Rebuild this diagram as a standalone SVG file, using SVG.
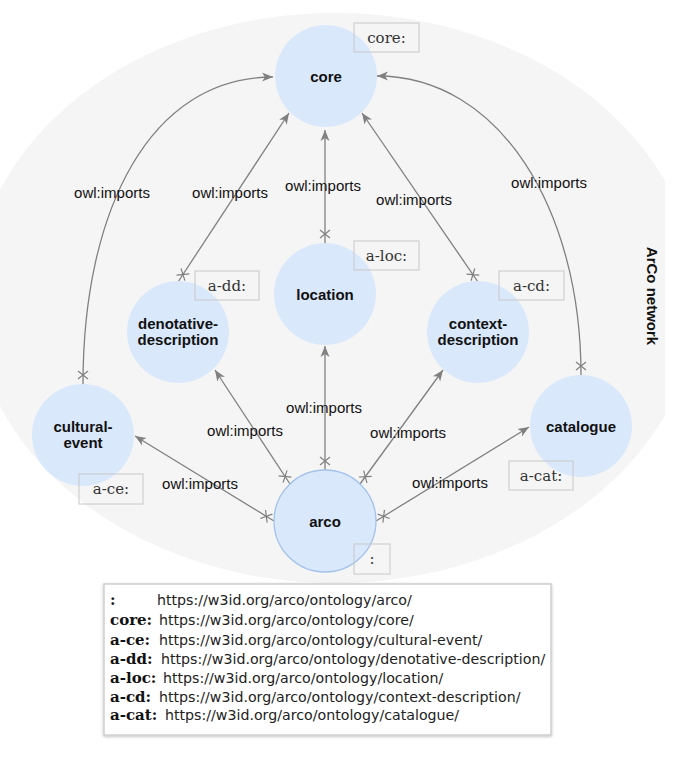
<svg xmlns="http://www.w3.org/2000/svg" width="684" height="759" viewBox="0 0 684 759">
<style>
.node{fill:#dae8fc;}
.nl{font-family:"Liberation Sans",Arial,sans-serif;font-size:15px;font-weight:bold;fill:#111;text-anchor:middle;}
.el{font-family:"Liberation Sans",Arial,sans-serif;font-size:15px;fill:#111;text-anchor:middle;}
.pb{fill:none;stroke:#c8c8c8;stroke-width:1;}
.pt{font-family:"DejaVu Serif","Liberation Serif",serif;font-size:15px;fill:#333;text-anchor:middle;}
.conn{fill:none;stroke:#808080;stroke-width:1.3;marker-start:url(#cross);marker-end:url(#arr);}
.lp{font-family:"DejaVu Serif","Liberation Serif",serif;font-size:15px;font-weight:bold;fill:#111;}
.lu{font-family:"DejaVu Sans","Liberation Sans",sans-serif;font-size:14.2px;fill:#222;}
</style>
<defs>
<clipPath id="bgclip"><rect x="0" y="0" width="665" height="759"/></clipPath>
<marker id="arr" markerUnits="userSpaceOnUse" markerWidth="13" markerHeight="11" viewBox="0 0 13 11" refX="11" refY="5.5" orient="auto">
<path d="M0,1 L11,5.5 L0,10 L3,5.5 Z" fill="#808080"/>
</marker>
<marker id="cross" markerUnits="userSpaceOnUse" markerWidth="20" markerHeight="20" viewBox="-10 -10 20 20" refX="-9" refY="0" orient="auto" overflow="visible">
<path d="M-4,-5 L4,5 M-4,5 L4,-5" stroke="#808080" stroke-width="1.2" fill="none"/>
</marker>
<filter id="sh" x="-5%" y="-5%" width="110%" height="115%">
<feDropShadow dx="0" dy="1" stdDeviation="1.5" flood-color="#000" flood-opacity="0.25"/>
</filter>
</defs>
<rect width="684" height="759" fill="#ffffff"/>
<g id="background">
<ellipse cx="335" cy="298" rx="362" ry="285" fill="#f5f5f5" clip-path="url(#bgclip)"/>
<text transform="translate(647,296) rotate(90)" x="0" y="0" class="nl">ArCo network</text>
</g>
<g id="connectors">
<path class="conn" d="M83,384 C83,210 150,77 273,77"/>
<path class="conn" d="M178,282 L289,113"/>
<path class="conn" d="M325,243 L325,130"/>
<path class="conn" d="M478,282 L362,113"/>
<path class="conn" d="M581,375 C581,210 500,76 377,76"/>
<path class="conn" d="M274,521 L135,436"/>
<path class="conn" d="M290,484 L215,370"/>
<path class="conn" d="M325,470 L325,346"/>
<path class="conn" d="M360,484 L443,370"/>
<path class="conn" d="M376,521 L529,427"/>
<text class="el" x="112" y="198">owl:imports</text>
<text class="el" x="230" y="198">owl:imports</text>
<text class="el" x="323" y="191">owl:imports</text>
<text class="el" x="414" y="205">owl:imports</text>
<text class="el" x="549" y="188">owl:imports</text>
<text class="el" x="200" y="489">owl:imports</text>
<text class="el" x="245" y="436">owl:imports</text>
<text class="el" x="324" y="413">owl:imports</text>
<text class="el" x="408" y="438">owl:imports</text>
<text class="el" x="450" y="488">owl:imports</text>
</g>
<g id="core">
<circle class="node" cx="326" cy="76" r="51"/>
<text class="nl" x="326" y="82">core</text>
<rect class="pb" x="354" y="23" width="65" height="29"/>
<text class="pt" x="386.5" y="43">core:</text>
</g>
<g id="location">
<circle class="node" cx="325" cy="294" r="51"/>
<text class="nl" x="325" y="300">location</text>
<rect class="pb" x="354" y="241" width="65" height="29"/>
<text class="pt" x="386.5" y="261">a-loc:</text>
</g>
<g id="denotative-description">
<circle class="node" cx="178" cy="332" r="51"/>
<text class="nl" x="178" y="329">denotative-</text>
<text class="nl" x="178" y="345">description</text>
<rect class="pb" x="195" y="271" width="64" height="29"/>
<text class="pt" x="227" y="291">a-dd:</text>
</g>
<g id="context-description">
<circle class="node" cx="478" cy="332" r="51"/>
<text class="nl" x="478" y="329">context-</text>
<text class="nl" x="478" y="345">description</text>
<rect class="pb" x="499" y="271" width="65" height="29"/>
<text class="pt" x="531.5" y="291">a-cd:</text>
</g>
<g id="cultural-event">
<circle class="node" cx="83" cy="435" r="51"/>
<text class="nl" x="83" y="432">cultural-</text>
<text class="nl" x="83" y="448">event</text>
<rect class="pb" x="79" y="474" width="64" height="30"/>
<text class="pt" x="111" y="494">a-ce:</text>
</g>
<g id="catalogue">
<circle class="node" cx="581" cy="426" r="51"/>
<text class="nl" x="581" y="432">catalogue</text>
<rect class="pb" x="509" y="461" width="64" height="29"/>
<text class="pt" x="541" y="481">a-cat:</text>
</g>
<g id="arco">
<circle class="node" cx="325" cy="521" r="51" stroke="#a3c2ea" stroke-width="1.3"/>
<text class="nl" x="325" y="527">arco</text>
<rect class="pb" x="354" y="544" width="36" height="30"/>
<text class="pt" x="372" y="564">:</text>
</g>
<g id="legend">
<rect x="104" y="584" width="447" height="151" fill="#ffffff" stroke="#cfcfcf" stroke-width="1.5" filter="url(#sh)"/>
<text class="lp" x="110" y="605">:</text><text class="lu" x="157" y="605">https://w3id.org/arco/ontology/arco/</text>
<text class="lp" x="110" y="625">core:</text><text class="lu" x="159" y="625">https://w3id.org/arco/ontology/core/</text>
<text class="lp" x="110" y="645">a-ce:</text><text class="lu" x="159" y="645">https://w3id.org/arco/ontology/cultural-event/</text>
<text class="lp" x="110" y="664">a-dd:</text><text class="lu" x="161" y="664">https://w3id.org/arco/ontology/denotative-description/</text>
<text class="lp" x="110" y="683">a-loc:</text><text class="lu" x="163" y="683">https://w3id.org/arco/ontology/location/</text>
<text class="lp" x="110" y="702">a-cd:</text><text class="lu" x="159" y="702">https://w3id.org/arco/ontology/context-description/</text>
<text class="lp" x="110" y="720">a-cat:</text><text class="lu" x="165" y="720">https://w3id.org/arco/ontology/catalogue/</text>
</g>
</svg>
